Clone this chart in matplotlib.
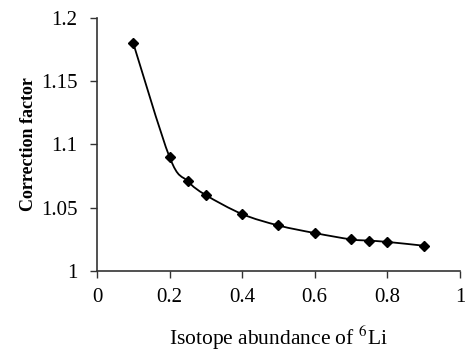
import matplotlib
matplotlib.use("Agg")
import matplotlib.pyplot as plt
from matplotlib.path import Path
from matplotlib.patches import PathPatch
import numpy as np

abundance = [0.1, 0.2, 0.25, 0.3, 0.4, 0.5, 0.6, 0.7, 0.75, 0.8, 0.9]
correction = [1.180, 1.090, 1.071, 1.060, 1.045, 1.036, 1.030, 1.025, 1.024, 1.023, 1.020]
x_ticks = [0, 0.2, 0.4, 0.6, 0.8, 1]
x_tick_labels = ["0", "0.2", "0.4", "0.6", "0.8", "1"]
y_ticks = [1, 1.05, 1.1, 1.15, 1.2]
y_tick_labels = ["1", "1.05", "1.1", "1.15", "1.2"]

plt.rcParams["font.family"] = ["Liberation Serif", "DejaVu Serif"]
plt.rcParams["mathtext.fontset"] = "stix"


def smooth_path(x, y, t=1 / 6):
    # spreadsheet-style smoothed line: cubic Bezier through every point
    x = np.asarray(x, float)
    y = np.asarray(y, float)
    verts = [(x[0], y[0])]
    codes = [Path.MOVETO]
    n = len(x)
    for i in range(n - 1):
        p0 = (x[max(i - 1, 0)], y[max(i - 1, 0)])
        p1 = (x[i], y[i])
        p2 = (x[i + 1], y[i + 1])
        p3 = (x[min(i + 2, n - 1)], y[min(i + 2, n - 1)])
        c1 = (p1[0] + (p2[0] - p0[0]) * t, p1[1] + (p2[1] - p0[1]) * t)
        c2 = (p2[0] - (p3[0] - p1[0]) * t, p2[1] - (p3[1] - p1[1]) * t)
        verts += [c1, c2, p2]
        codes += [Path.CURVE4] * 3
    return Path(verts, codes)


fig = plt.figure(figsize=(4.65, 3.5), dpi=100)
ax = fig.add_axes([0.2086, 0.2257, 0.7804, 0.7229])

ax.add_patch(PathPatch(smooth_path(abundance, correction), facecolor="none",
                       edgecolor="black", lw=1.3))
ax.plot(abundance, correction, linestyle="none", marker="D", ms=5.5,
        color="black")

ax.set_xlim(0, 1)
ax.set_ylim(1, 1.2)
ax.set_xticks(x_ticks)
ax.set_xticklabels(x_tick_labels)
ax.set_yticks(y_ticks)
ax.set_yticklabels(y_tick_labels)
ax.tick_params(axis="both", direction="out", length=5, width=1, labelsize=15,
               color="#333333")
ax.tick_params(axis="x", pad=7)
ax.tick_params(axis="y", pad=9)

for side in ("top", "right"):
    ax.spines[side].set_visible(False)
for side in ("left", "bottom"):
    ax.spines[side].set_color("#333333")
    ax.spines[side].set_linewidth(1.2)

ax.set_ylabel("Correction factor", fontsize=13, fontweight="bold", labelpad=3)
ax.set_xlabel("Isotope abundance of $^{6}$Li", fontsize=15.5, labelpad=12)

fig.savefig("out.png", dpi=100)
